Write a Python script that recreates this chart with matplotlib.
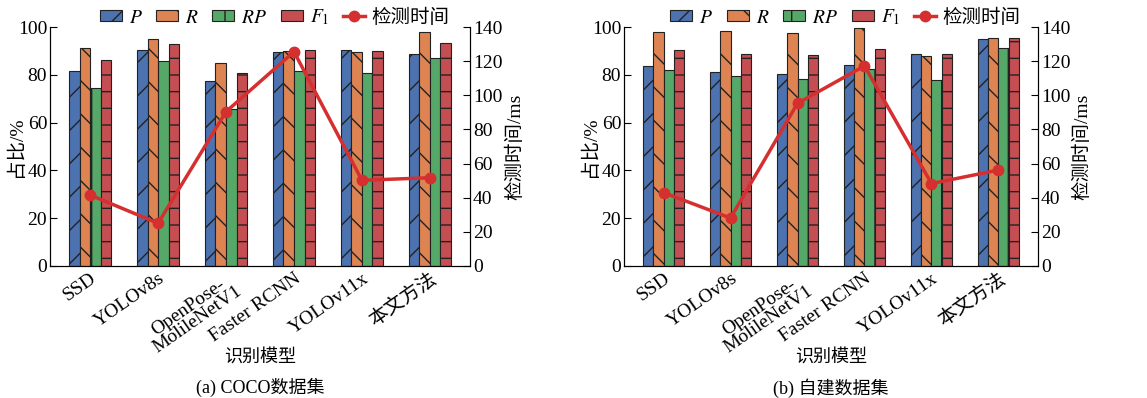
import numpy as np
import matplotlib
matplotlib.use("Agg")
from matplotlib import pyplot as plt
from matplotlib import transforms
from matplotlib.lines import Line2D
from matplotlib.patches import Patch

plt.rcParams['font.family'] = ['Liberation Serif', 'Noto Sans CJK SC']
plt.rcParams['mathtext.fontset'] = 'stix'
plt.rcParams['hatch.linewidth'] = 1.0
plt.rcParams['axes.unicode_minus'] = False

models = ['SSD', 'YOLOv8s', 'OpenPose-\nMolileNetV1', 'Faster RCNN', 'YOLOv11x', '本文方法']

# (a) COCO
coco_p = [81.7, 90.2, 77.4, 89.5, 90.2, 88.7]
coco_r = [91.1, 95.1, 85.0, 89.8, 89.4, 98.0]
coco_rp = [74.5, 85.8, 65.8, 81.5, 80.8, 87.2]
coco_f1 = [86.0, 92.7, 80.9, 90.2, 89.8, 93.2]
coco_time = [41.6, 25.0, 90.4, 125.5, 50.2, 51.7]

# (b) self-built
own_p = [83.8, 81.3, 80.5, 84.0, 88.9, 95.1]
own_r = [97.9, 98.2, 97.6, 99.4, 87.9, 95.6]
own_rp = [81.9, 79.7, 78.1, 82.6, 77.9, 91.1]
own_f1 = [90.4, 88.9, 88.1, 90.7, 88.5, 95.3]
own_time = [43.0, 28.1, 95.3, 117.2, 48.3, 56.2]

colors = ['#4C72B0', '#DD8452', '#55A868', '#C44E52']
hatches = ['/', '\\', '|', '-']
names = ['$P$', '$R$', '$RP$', '$F_1$']
line_color = '#d62f2f'
fs = 13


def draw_panel(fig, ax, series, times, caption):
    x = np.arange(len(models))
    w = 0.155
    for i, vals in enumerate(series):
        ax.bar(x + (i - 1.5) * w, vals, w, color=colors[i], hatch=hatches[i],
               edgecolor='#222222', linewidth=0.8, zorder=2)
    ax.set_ylim(0, 100)
    ax.set_xlim(-0.59, 5.59)
    ax.set_yticks(range(0, 101, 20))
    ax.set_xticks(x)
    ax.set_xticklabels(models, rotation=35, ha='right', rotation_mode='anchor',
                       fontsize=fs + 1, linespacing=0.9, multialignment='center')
    # nudge rotated labels right and up a little, like the original
    shift = transforms.ScaledTranslation(8 / 100, 4 / 100, fig.dpi_scale_trans)
    for lab in ax.get_xticklabels():
        lab.set_transform(lab.get_transform() + shift)
    ax.tick_params(axis='x', length=0, pad=3)
    ax.tick_params(axis='y', direction='in', labelsize=fs + 1, length=5, pad=2)
    ax.spines['top'].set_visible(False)
    ax.set_ylabel('占比/%', fontsize=fs + 1)
    ax.yaxis.set_label_coords(-0.06, 0.5)

    ax2 = ax.twinx()
    ax2.plot(x, times, color=line_color, marker='o', markersize=7.5, linewidth=2.5, zorder=5)
    ax2.set_ylim(0, 140)
    ax2.set_yticks(range(0, 141, 20))
    ax2.tick_params(axis='y', direction='in', labelsize=fs + 1, length=5, pad=2)
    ax2.spines['top'].set_visible(False)
    ax2.set_ylabel('检测时间/ms', fontsize=fs + 1)
    ax2.yaxis.set_label_coords(1.085, 0.5)

    handles = [Patch(facecolor=colors[i], hatch=hatches[i], edgecolor='#222222',
                     linewidth=0.8, label=names[i]) for i in range(4)]
    handles.append(Line2D([], [], color=line_color, marker='o', markersize=7.5,
                          linewidth=2.5, label='检测时间'))
    ax.legend(handles=handles, loc='center', bbox_to_anchor=(0.535, 1.04),
              ncol=5, frameon=False, prop={'size': fs + 1}, handlelength=1.13,
              handleheight=0.5, handletextpad=0.36, columnspacing=0.7,
              borderaxespad=0, borderpad=0)
    ax.text(0.5, -0.382, '识别模型', transform=ax.transAxes, ha='center',
            va='center', fontsize=fs)
    ax.text(0.5, -0.51, caption, transform=ax.transAxes, ha='center',
            va='center', fontsize=fs)


fig = plt.figure(figsize=(11.47, 3.98), dpi=100)
ax_a = fig.add_axes([50 / 1147, 1 - 266 / 398, 420 / 1147, 239 / 398])
ax_b = fig.add_axes([624 / 1147, 1 - 266 / 398, 414 / 1147, 239 / 398])

draw_panel(fig, ax_a, [coco_p, coco_r, coco_rp, coco_f1], coco_time, '(a) COCO数据集')
draw_panel(fig, ax_b, [own_p, own_r, own_rp, own_f1], own_time, '(b) 自建数据集')

fig.savefig('out.png', dpi=100)
